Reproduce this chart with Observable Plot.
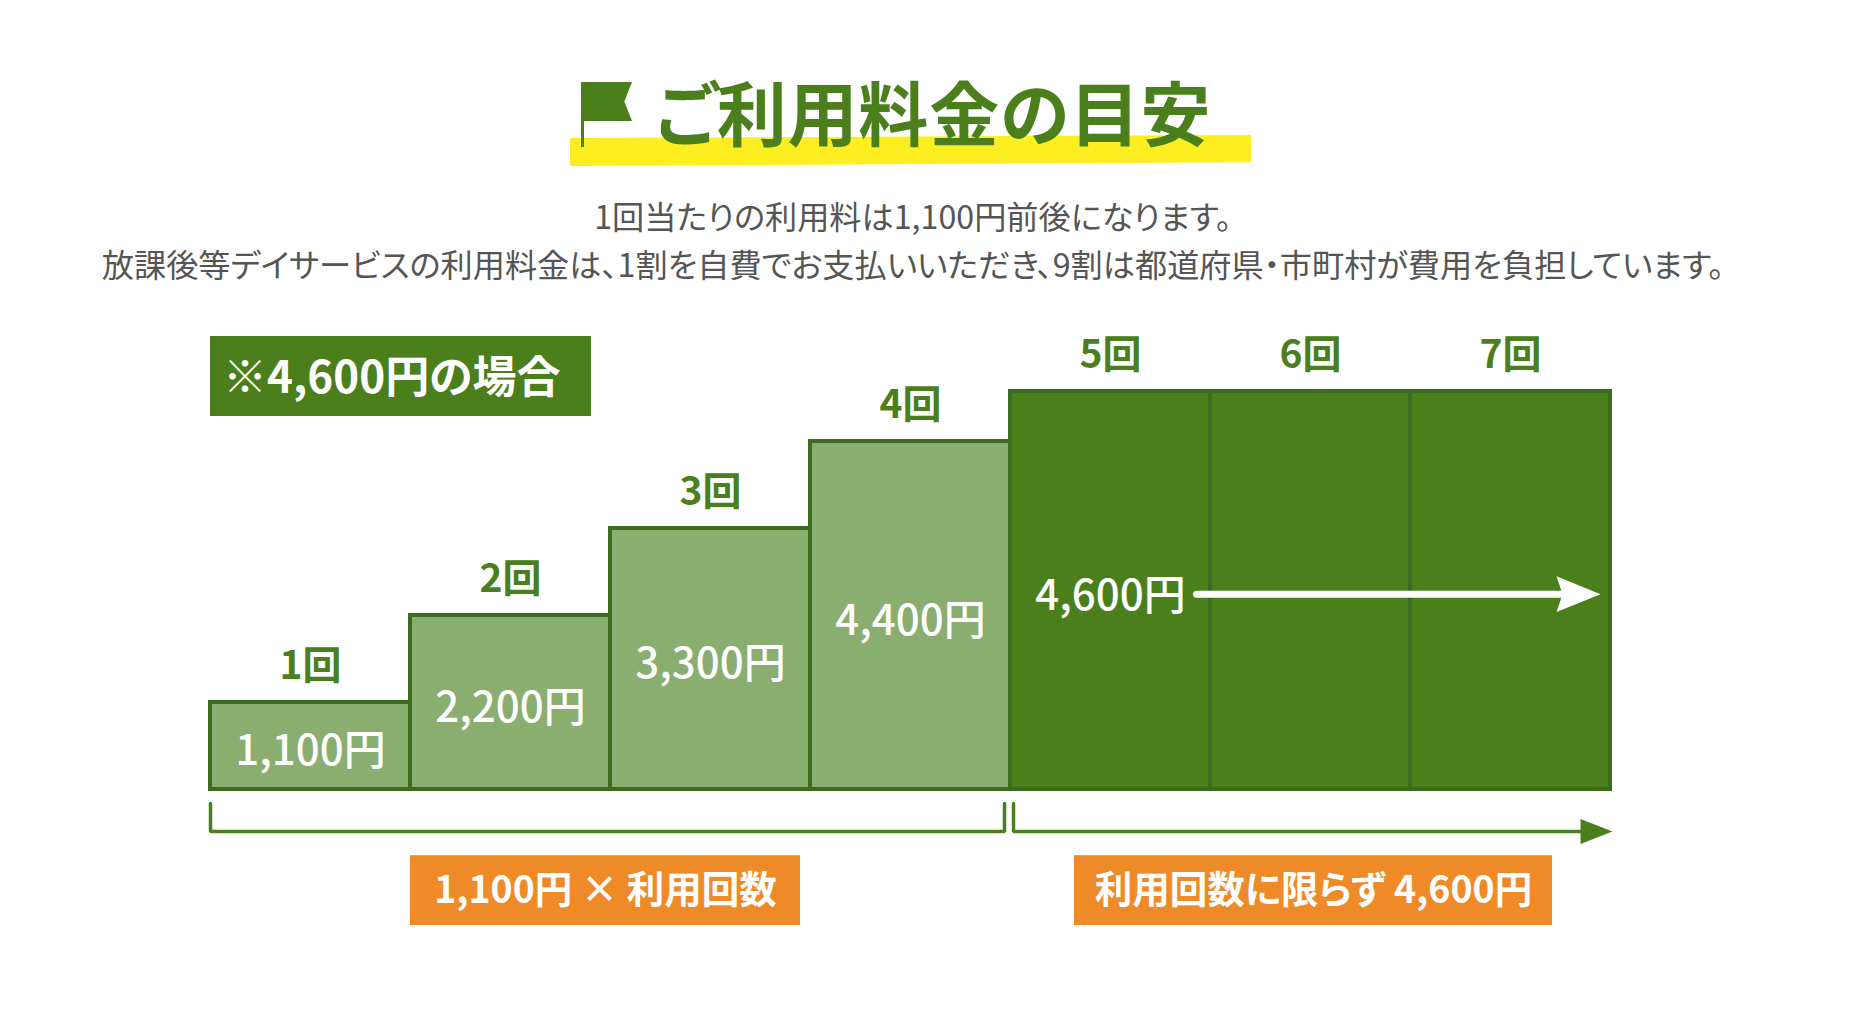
<!DOCTYPE html>
<html lang="ja">
<head>
<meta charset="utf-8">
<script src="https://cdn.jsdelivr.net/npm/d3@7"></script>
<script src="https://cdn.jsdelivr.net/npm/@observablehq/plot@0.6"></script>
<style>
html,body{margin:0;padding:0;background:#fff}
#page{position:relative;width:1864px;height:1018px;overflow:hidden;font-family:"Noto Sans CJK JP","Noto Sans",sans-serif;font-feature-settings:"palt"}
#page>*{position:absolute}
#marker{left:570px;top:135px;width:681px;height:31px;background:#fcee21;clip-path:polygon(0 10%,100% 0,100% 88%,0 100%)}
#flag{left:584px;top:82px;width:48px;height:39px;background:#4a7f1c;clip-path:polygon(0 0,100% 0,84% 50%,100% 100%,0 100%)}
#pole{left:581px;top:82px;width:3px;height:65px;background:#4a7f1c}
#title{left:655px;top:66px;width:560px;text-align:left;margin:0;color:#4a7f1c;font-size:70px;line-height:90px;font-weight:700;white-space:nowrap;letter-spacing:.8px}
.sub{left:-19px;width:1864px;text-align:center;margin:0;color:#555;font-size:32.2px;line-height:40px;white-space:nowrap}
#note{left:210px;top:336px;width:381px;height:80px;background:#4a7f1c;color:#fff;font-size:44px;font-weight:700;line-height:76px;box-sizing:border-box;padding-left:13px;white-space:nowrap}
#chart{left:0;top:0}
</style>
</head>
<body>
<div id="page">
  <div id="marker"></div>
  <div id="pole"></div>
  <div id="flag"></div>
  <h1 id="title">ご利用料金の目安</h1>
  <p class="sub" style="top:195px">1回当たりの利用料は1,100円前後になります。</p>
  <p class="sub" style="top:243px">放課後等デイサービスの利用料金は、1割を自費でお支払いいただき、9割は都道府県・市町村が費用を負担しています。</p>
  <div id="chart"></div>
  <div id="note">※4,600円の場合</div>
</div>
<script>
const visits = [1, 2, 3, 4, 5, 6, 7];
const amounts = [1100, 2200, 3300, 4400, 4600, 4600, 4600];
const capAmount = 4600;
const priceLabels = ["1,100円", "2,200円", "3,300円", "4,400円"];
const capLabel = "4,600円";
const visitLabels = ["1回", "2回", "3回", "4回", "5回", "6回", "7回"];
const badgeLabels = ["1,100円 × 利用回数", "利用回数に限らず 4,600円"];

const green = "#4a7f1c", edge = "#3c6c1e", light = "#8aad70", orange = "#ef8a28";
const bars = visits.map((v, i) => ({v, amount: amounts[i], label: visitLabels[i], capped: amounts[i] === capAmount}));
const steps = bars.filter(d => !d.capped).map((d, i) => ({...d, price: priceLabels[i]}));

// Annotation geometry in the chart's own units (visits, yen)
const arrowLevel = 2470;
const capX = 4.5;
const tickTop = -175, rail = -530;
const badgeTop = -835, badgeBottom = -1715;
const badges = [
  {x1: 1, x2: 2.95, label: badgeLabels[0]},
  {x1: 4.32, x2: 6.71, label: badgeLabels[1]}
];

const font = '"Noto Sans CJK JP","Noto Sans",sans-serif';
const chart = Plot.plot({
  width: 1864, height: 1018,
  marginTop: 0, marginRight: 0, marginBottom: 0, marginLeft: 0,
  x: {type: "linear", domain: [0, 7], range: [210, 1610], axis: null},
  y: {type: "linear", domain: [-2800, 0, 4400, 4600], range: [1011, 789, 441, 391], axis: null},
  style: {background: "transparent", fontFamily: font, overflow: "visible"},
  marks: [
    Plot.rect(bars.filter(d => !d.capped), {x1: d => d.v - 1, x2: d => d.v, y1: 0, y2: "amount", fill: light, stroke: edge, strokeWidth: 4}),
    Plot.rect(bars.filter(d => d.capped), {x1: d => d.v - 1, x2: d => d.v, y1: 0, y2: "amount", fill: green, stroke: edge, strokeWidth: 4}),
    Plot.text(bars, {x: d => d.v - 0.5, y: "amount", text: "label", dy: -35.5, fill: green, fontSize: 39, fontWeight: 700, lineAnchor: "middle"}),
    Plot.text(steps, {x: d => d.v - 0.5, y: d => d.amount / 2, text: "price", dy: 6, fill: "#fff", fontSize: 42, fontWeight: 500, lineAnchor: "middle"}),
    Plot.text([capLabel], {x: capX, y: arrowLevel, text: d => d, dy: 2, fill: "#fff", fontSize: 42, fontWeight: 500, lineAnchor: "middle"}),
    // white arrow
    Plot.line([[4.93, arrowLevel], [6.76, arrowLevel]], {x: "0", y: "1", stroke: "#fff", strokeWidth: 7, strokeLinecap: "round"}),
    Plot.line([[6.73, arrowLevel + 225], [6.95, arrowLevel], [6.73, arrowLevel - 225], [6.76, arrowLevel]], {x: "0", y: "1", fill: "#fff", stroke: "none", curve: "linear-closed"}),
    // brackets
    Plot.line([[0, tickTop], [0, rail], [3.97, rail], [3.97, tickTop]], {x: "0", y: "1", stroke: green, strokeWidth: 3.5, strokeLinejoin: "miter"}),
    Plot.line([[4.015, tickTop], [4.015, rail], [6.9, rail]], {x: "0", y: "1", stroke: green, strokeWidth: 3.5, strokeLinejoin: "miter"}),
    Plot.line([[6.85, rail + 158], [7.01, rail], [6.85, rail - 158]], {x: "0", y: "1", fill: green, stroke: "none", curve: "linear-closed"}),
    // badges
    Plot.rect(badges, {x1: "x1", x2: "x2", y1: badgeTop, y2: badgeBottom, fill: orange}),
    Plot.text(badges, {x: d => (d.x1 + d.x2) / 2, y: (badgeTop + badgeBottom) / 2, text: "label", fill: "#fff", fontSize: 37.5, fontWeight: 700, lineAnchor: "middle"})
  ]
});
document.getElementById("chart").append(chart);
</script>
</body>
</html>
